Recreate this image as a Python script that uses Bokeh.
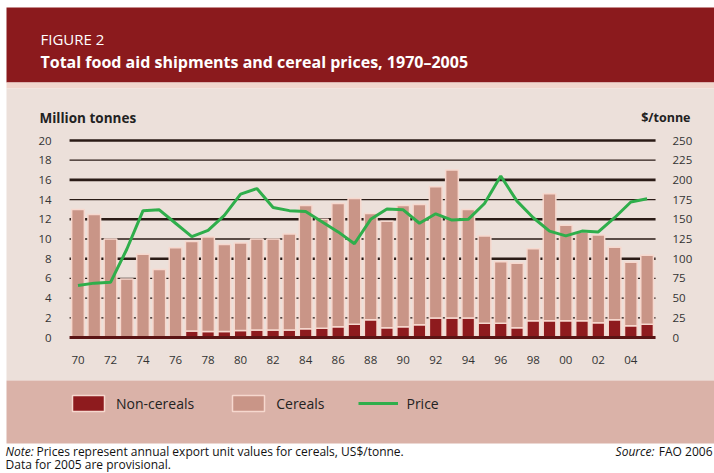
from bokeh.plotting import figure
from bokeh.models import (Range1d, LinearAxis, FixedTicker, BoxAnnotation,
                          Label, Legend, LegendItem, ColumnDataSource)
from bokeh.embed import file_html
from bokeh.resources import INLINE

# ---- data ----
years = list(range(1970, 2006))
total_tonnes = [13.0, 12.5, 10.0, 5.95, 8.45, 6.9, 9.1, 9.75, 10.2, 9.45,
                9.6, 10.0, 10.0, 10.5, 13.4, 12.0, 13.6, 14.1, 12.6, 11.8,
                13.4, 13.5, 15.3, 17.0, 13.0, 10.3, 7.7, 7.55, 9.0, 14.6,
                11.4, 10.7, 10.4, 9.15, 7.65, 8.35]
non_cereals = [0, 0, 0, 0, 0, 0, 0, 0.65, 0.6, 0.6,
               0.7, 0.75, 0.75, 0.75, 0.9, 0.95, 1.1, 1.35, 1.8, 1.0,
               1.1, 1.3, 1.97, 1.97, 1.97, 1.45, 1.45, 1.0, 1.7, 1.7,
               1.7, 1.7, 1.5, 1.8, 1.2, 1.35]
cereals = [round(t - n, 2) for t, n in zip(total_tonnes, non_cereals)]
price = [66, 69, 70, 112, 161, 162, 145, 128, 136, 155,
         182, 189, 165, 161, 160, 147, 134, 119, 150, 163,
         162, 145, 157, 149, 150, 170, 205, 173, 152, 135,
         129, 135, 134, 152, 172, 176]
left_ticks = list(range(0, 21, 2))
right_ticks = list(range(0, 251, 25))
thick_grid = [8, 12, 16, 20]
thin_grid = [2, 4, 6, 10, 14, 18]
x_ticks = list(range(1970, 2005, 2))
x_tick_labels = {y: f"{y % 100:02d}" for y in x_ticks}

FONT = "Open Sans"
W, H = 714, 473
RED, STRIP, BEIGE, BAND = "#8B1A1D", "#F1D6CD", "#ECE0DA", "#DAB2A8"
C_NC, C_CER, C_LINE, C_EDGE = "#8E1B1E", "#C99587", "#2FAE4B", "#F6D8CE"
GRID = "#2A1B16"

# Scales: the frame fills the whole canvas; plot area is px 69..655 x 140..337
PX_YEAR = 16.26          # pixels per year
X0_PX = 77.5             # pixel of year 1970
PX_UNIT = 9.85           # pixels per million tonnes
Y0_PX = 337              # pixel of 0 tonnes
x_lo = years[0] - X0_PX / PX_YEAR
x_hi = years[0] + (W - X0_PX) / PX_YEAR
y_lo = -(H - Y0_PX) / PX_UNIT
y_hi = Y0_PX / PX_UNIT
XMIN, XMAX = years[0] - 0.52, years[-1] + 0.52
PRICE_PER_UNIT = 12.5    # 250 $/t  <->  20 Mt

src = ColumnDataSource(dict(year=years, nc=non_cereals, cer=cereals, price=price))

p = figure(width=W, height=H, x_range=Range1d(x_lo, x_hi), y_range=Range1d(y_lo, y_hi),
           output_backend="svg", toolbar_location=None,
           x_axis_location=None, y_axis_location=None,
           min_border=0, min_border_left=0, min_border_right=0,
           min_border_top=0, min_border_bottom=0)
p.extra_y_ranges = {"price": Range1d(y_lo * PRICE_PER_UNIT, y_hi * PRICE_PER_UNIT)}
p.xgrid.visible = False
p.ygrid.visible = False
p.background_fill_color = "#FFFFFF"
p.border_fill_color = "#FFFFFF"
p.outline_line_color = None


def box(x0, y0, x1, y1, color):
    p.add_layout(BoxAnnotation(left=x0, right=x1, top=H - y0, bottom=H - y1,
                               left_units="screen", right_units="screen",
                               top_units="screen", bottom_units="screen",
                               fill_color=color, fill_alpha=1, line_color=None,
                               level="underlay"))


def lab(text, x, y, size, color="#222222", style="normal", align="left"):
    p.add_layout(Label(x=x, y=H - y, x_units="screen", y_units="screen",
                       text=text, text_font=FONT, text_font_size=size,
                       text_font_style=style, text_color=color,
                       text_align=align, text_baseline="middle"))


# background panels
box(6, 7, W, 82, RED)
box(6, 82, W, 88, STRIP)
box(6, 88, W, 380, BEIGE)
box(6, 380, W, 443, BAND)

# grid lines (behind bars)
p.segment(x0=XMIN, x1=XMAX, y0=thin_grid, y1=thin_grid, line_color=GRID, line_width=1.3)
p.segment(x0=XMIN, x1=XMAX, y0=thick_grid, y1=thick_grid, line_color=GRID, line_width=2.6)

# bars
rs = p.vbar_stack(["nc", "cer"], x="year", width=0.78, source=src,
                  fill_color=[C_NC, C_CER], line_color=C_EDGE, line_width=1.5)
p.segment(x0=XMIN, x1=XMAX, y0=0, y1=0, line_color="#5A1414", line_width=3)
ln = p.line("year", "price", source=src, y_range_name="price",
            line_color=C_LINE, line_width=3)


def style_axis(ax, standoff):
    ax.axis_line_color = None
    ax.major_tick_line_color = None
    ax.minor_tick_line_color = None
    ax.major_label_text_font = FONT
    ax.major_label_text_font_size = "11.5px"
    ax.major_label_text_color = "#333333"
    ax.major_label_standoff = standoff


lax = LinearAxis(fixed_location=XMIN, ticker=FixedTicker(ticks=left_ticks))
style_axis(lax, 12)
p.add_layout(lax, "left")
rax = LinearAxis(fixed_location=XMAX, y_range_name="price",
                 ticker=FixedTicker(ticks=right_ticks))
style_axis(rax, 11)
p.add_layout(rax, "right")
bax = LinearAxis(fixed_location=0, ticker=FixedTicker(ticks=x_ticks),
                 major_label_overrides=x_tick_labels)
style_axis(bax, 12)
p.add_layout(bax, "below")

# texts
lab("FIGURE 2", 40, 38, "15px", color="#FFFFFF")
lab("Total food aid shipments and cereal prices, 1970\u20132005", 40, 61,
    "16px", color="#FFFFFF", style="bold")
lab("Million tonnes", 39, 117, "13.5px", style="bold")
lab("$/tonne", 690, 117, "12.5px", style="bold", align="right")
lab("Note:", 5, 451, "12px", color="#111111", style="italic")
lab("Prices represent annual export unit values for cereals, US$/tonne.", 36, 451,
    "12px", color="#111111")
lab("Data for 2005 are provisional.", 5, 464, "12px", color="#111111")
lab("FAO 2006", 712, 451, "12px", color="#111111", align="right")
lab("Source:", 654, 451, "12px", color="#111111", style="italic", align="right")

legend = Legend(items=[LegendItem(label="Non-cereals", renderers=[rs[0]]),
                       LegendItem(label="Cereals", renderers=[rs[1]]),
                       LegendItem(label="Price", renderers=[ln])],
                orientation="horizontal", location=(68, H - 413),
                glyph_width=40, glyph_height=20, label_height=20,
                label_standoff=8, spacing=34, padding=0, margin=0,
                background_fill_alpha=0, border_line_color=None,
                label_text_font=FONT, label_text_font_size="14px",
                label_text_color="#222222")
p.add_layout(legend)

open("out.html", "w").write(file_html(p, INLINE))
